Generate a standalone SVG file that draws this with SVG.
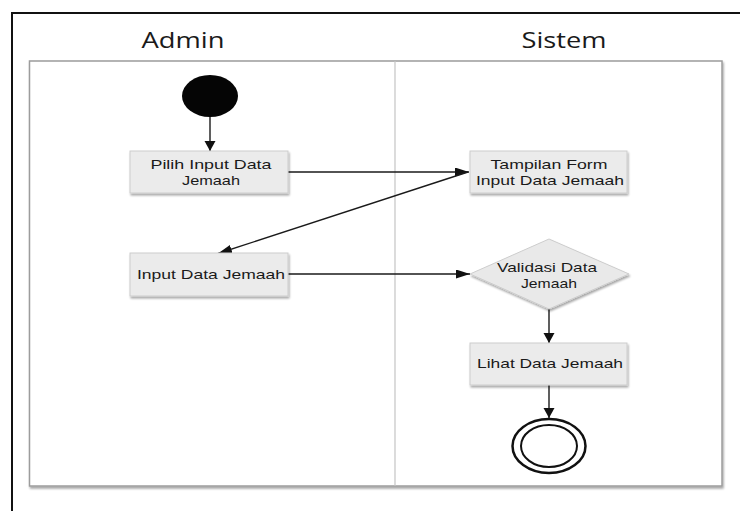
<svg xmlns="http://www.w3.org/2000/svg" width="740" height="511" viewBox="0 0 740 511">
  <defs>
    <filter id="shadow" x="-10%" y="-10%" width="130%" height="140%">
      <feGaussianBlur in="SourceAlpha" stdDeviation="1.2"/>
      <feOffset dx="1" dy="2" result="b"/>
      <feComponentTransfer><feFuncA type="linear" slope="0.35"/></feComponentTransfer>
      <feMerge><feMergeNode/><feMergeNode in="SourceGraphic"/></feMerge>
    </filter>
    <marker id="arrowV" markerWidth="12" markerHeight="12" refX="10" refY="5.5" orient="auto" markerUnits="userSpaceOnUse">
      <path d="M0,0 L10,5.5 L0,11 Z" fill="#111"/>
    </marker>
    <marker id="arrowH" markerWidth="16" markerHeight="12" refX="14" refY="4.5" orient="auto" markerUnits="userSpaceOnUse">
      <path d="M0,0 L14,4.5 L0,9 Z" fill="#111"/>
    </marker>
  </defs>
  <style>
    .title { font-family: "Open Sans", "Noto Sans", "DejaVu Sans", sans-serif; font-size: 21px; fill: #1a1a1a; text-anchor: middle; }
    .label { font-family: "Liberation Sans", Arial, sans-serif; font-size: 13.5px; fill: #1a1a1a; text-anchor: middle; }
    .box { fill: #ebebeb; stroke: #cdcdcd; stroke-width: 1; }
    .edge { stroke: #1a1a1a; stroke-width: 1.4; fill: none; }
  </style>

  <rect width="740" height="511" fill="#ffffff"/>

  <!-- outer frame -->
  <path d="M12,511 V13 H740" fill="none" stroke="#111" stroke-width="2"/>

  <!-- swimlane pool -->
  <g id="pool">
    <rect x="29.5" y="61" width="692.5" height="425" fill="#ffffff" stroke="#9c9c9c" stroke-width="1.5" filter="url(#shadow)"/>
    <line x1="395" y1="61" x2="395" y2="486" stroke="#c4c4c4" stroke-width="1.2"/>
    <text class="title" x="183" y="48" textLength="83" lengthAdjust="spacingAndGlyphs">Admin</text>
    <text class="title" x="564" y="48" textLength="85" lengthAdjust="spacingAndGlyphs">Sistem</text>
  </g>

  <!-- connectors -->
  <g id="connectors">
    <line class="edge" x1="210" y1="117" x2="210" y2="151" marker-end="url(#arrowV)"/>
    <line class="edge" x1="288" y1="172" x2="469" y2="172" marker-end="url(#arrowH)"/>
    <line class="edge" x1="468" y1="172" x2="218" y2="253.5" marker-end="url(#arrowH)"/>
    <line class="edge" x1="288" y1="274" x2="470" y2="274" marker-end="url(#arrowH)"/>
    <line class="edge" x1="549" y1="309" x2="549" y2="343" marker-end="url(#arrowV)"/>
    <line class="edge" x1="549" y1="385" x2="549" y2="418" marker-end="url(#arrowV)"/>
  </g>

  <g id="start">
    <ellipse cx="210" cy="96" rx="28" ry="21" fill="#050505"/>
  </g>

  <g id="pilih-input">
    <rect class="box" x="130" y="151" width="158" height="42" filter="url(#shadow)"/>
    <text class="label" x="211" y="169" textLength="121" lengthAdjust="spacingAndGlyphs">Pilih Input Data</text>
    <text class="label" x="211" y="185" textLength="58" lengthAdjust="spacingAndGlyphs">Jemaah</text>
  </g>

  <g id="tampilan-form">
    <rect class="box" x="470" y="151" width="157" height="42" filter="url(#shadow)"/>
    <text class="label" x="549" y="169" textLength="117" lengthAdjust="spacingAndGlyphs">Tampilan Form</text>
    <text class="label" x="550" y="185" textLength="148" lengthAdjust="spacingAndGlyphs">Input Data Jemaah</text>
  </g>

  <g id="input-data">
    <rect class="box" x="130" y="253" width="158" height="43" filter="url(#shadow)"/>
    <text class="label" x="211" y="279" textLength="148" lengthAdjust="spacingAndGlyphs">Input Data Jemaah</text>
  </g>

  <g id="validasi">
    <polygon points="549,239 629,274 549,309 470,274" fill="#e9e9e9" stroke="#cdcdcd" stroke-width="1" filter="url(#shadow)"/>
    <text class="label" x="547" y="272" textLength="100" lengthAdjust="spacingAndGlyphs">Validasi Data</text>
    <text class="label" x="549" y="288" textLength="56" lengthAdjust="spacingAndGlyphs">Jemaah</text>
  </g>

  <g id="lihat-data">
    <rect class="box" x="470" y="343" width="157" height="42" filter="url(#shadow)"/>
    <text class="label" x="550" y="368" textLength="146" lengthAdjust="spacingAndGlyphs">Lihat Data Jemaah</text>
  </g>

  <g id="end">
    <ellipse cx="549" cy="446" rx="36.5" ry="27" fill="#ffffff" stroke="#111" stroke-width="2.5"/>
    <ellipse cx="549" cy="446" rx="28" ry="21" fill="#ffffff" stroke="#111" stroke-width="2"/>
  </g>
</svg>
